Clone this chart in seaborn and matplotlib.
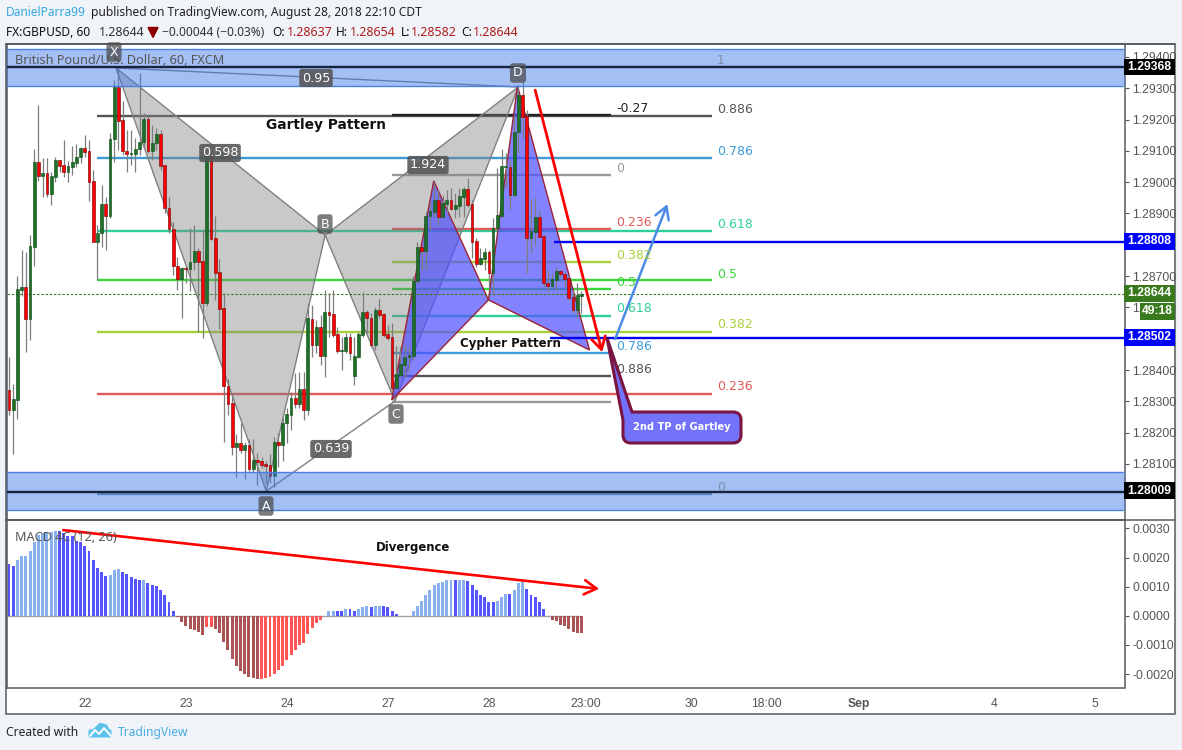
"""GBPUSD 60 minute chart with harmonic patterns and a MACD 4C panel."""

import matplotlib

matplotlib.use("Agg")

import matplotlib.pyplot as plt
import numpy as np
import pandas as pd
import seaborn as sns
from matplotlib.patches import FancyBboxPatch, PathPatch, Polygon, Rectangle
from matplotlib.path import Path

# prices are in 1e-5 units (points), one entry per hourly bar
candle_open = [
    128336, 128272, 128304, 128655, 128665, 128563, 128793, 129064, 129020, 129029,
    128962, 129016, 129071, 129055, 129032, 129048, 129061, 129080, 129109, 129100,
    129004, 128809, 128838, 128930, 128892, 129138, 129304, 129199, 129100, 129090,
    129090, 129106, 129128, 129202, 129100, 129125, 129154, 129055, 128917, 128850,
    128732, 128691, 128726, 128723, 128745, 128780, 128748, 128614, 129087, 128822,
    128713, 128598, 128349, 128294, 128154, 128167, 128144, 128160, 128084, 128112,
    128109, 128099, 128096, 128061, 128170, 128160, 128231, 128256, 128310, 128291,
    128339, 128272, 128563, 128480, 128537, 128445, 128585, 128579, 128515, 128461,
    128461, 128505, 128381, 128441, 128512, 128585, 128566, 128480, 128592, 128579,
    128515, 128505, 128342, 128384, 128416, 128441, 128445, 128684, 128793, 128780,
    128892, 128905, 128943, 128889, 128930, 128943, 128914, 128924, 128953, 128978,
    128930, 128812, 128739, 128755, 128777, 128710, 128854, 128892, 129048, 129048,
    128959, 129160, 129278, 129211, 128822, 128841, 128889, 128828, 128678, 128668,
    128687, 128716, 128707, 128694, 128633, 128592, 128637,
]
candle_close = [
    128272, 128307, 128659, 128665, 128563, 128796, 129064, 129020, 129029, 128962,
    129020, 129071, 129052, 129032, 129052, 129064, 129080, 129109, 129096, 129001,
    128809, 128838, 128930, 128892, 129138, 129304, 129195, 129100, 129090, 129093,
    129106, 129128, 129202, 129100, 129125, 129154, 129052, 128917, 128850, 128732,
    128691, 128726, 128723, 128745, 128780, 128745, 128614, 129087, 128818, 128710,
    128595, 128349, 128291, 128154, 128167, 128144, 128160, 128084, 128112, 128106,
    128096, 128093, 128061, 128170, 128160, 128231, 128259, 128310, 128291, 128339,
    128272, 128566, 128480, 128537, 128445, 128585, 128576, 128512, 128461, 128464,
    128505, 128454, 128445, 128515, 128585, 128566, 128480, 128592, 128576, 128512,
    128502, 128342, 128387, 128419, 128441, 128448, 128684, 128793, 128780, 128892,
    128908, 128943, 128889, 128933, 128943, 128914, 128927, 128956, 128978, 128927,
    128809, 128739, 128758, 128777, 128710, 128854, 128895, 129052, 129052, 128959,
    129160, 129278, 129208, 128822, 128844, 128889, 128825, 128678, 128668, 128691,
    128716, 128707, 128691, 128630, 128592, 128640, 128644,
]
candle_high = [
    128441, 128355, 128700, 128783, 128777, 128831, 129106, 129247, 129077, 129077,
    129032, 129080, 129071, 129135, 129068, 129116, 129122, 129112, 129151, 129135,
    129039, 128863, 128991, 128953, 129157, 129326, 129365, 129259, 129167, 129167,
    129141, 129349, 129221, 129215, 129183, 129173, 129167, 129055, 128953, 128873,
    128761, 128729, 128729, 128854, 128863, 128790, 128847, 129087, 129093, 128892,
    128755, 128646, 128371, 128326, 128195, 128231, 128170, 128179, 128179, 128135,
    128122, 128109, 128131, 128186, 128199, 128250, 128278, 128330, 128390, 128393,
    128393, 128614, 128608, 128560, 128576, 128655, 128646, 128655, 128537, 128505,
    128518, 128518, 128505, 128521, 128649, 128592, 128582, 128601, 128627, 128582,
    128544, 128550, 128477, 128473, 128480, 128473, 128700, 128809, 128799, 128905,
    128937, 129001, 128975, 128959, 128975, 128981, 128965, 128981, 128985, 129013,
    128943, 128822, 128790, 128790, 128783, 128885, 129045, 129106, 129093, 129071,
    129215, 129310, 129320, 129231, 128946, 128949, 128911, 128831, 128719, 128710,
    128729, 128719, 128713, 128703, 128655, 128678, 128654,
]
candle_low = [
    128256, 128131, 128243, 128636, 128457, 128496, 128732, 129004, 128953, 128953,
    128927, 129001, 129032, 129016, 129001, 129023, 129048, 129061, 129080, 128940,
    128809, 128687, 128793, 128783, 128885, 129064, 129103, 129087, 129032, 129055,
    129032, 129087, 129112, 129093, 129071, 129103, 129039, 128901, 128838, 128703,
    128655, 128566, 128678, 128652, 128719, 128521, 128502, 128604, 128815, 128624,
    128531, 128170, 128256, 128128, 128058, 128135, 128052, 128077, 128071, 128032,
    128087, 128039, 128039, 128026, 128090, 128109, 128167, 128208, 128278, 128278,
    128240, 128256, 128441, 128454, 128416, 128377, 128505, 128505, 128454, 128400,
    128454, 128432, 128352, 128438, 128505, 128518, 128473, 128464, 128566, 128505,
    128496, 128336, 128342, 128377, 128377, 128393, 128432, 128678, 128719, 128719,
    128847, 128889, 128863, 128889, 128905, 128911, 128885, 128889, 128889, 128921,
    128758, 128729, 128735, 128719, 128655, 128646, 128847, 128889, 128985, 128911,
    128953, 129093, 129141, 128710, 128774, 128799, 128825, 128665, 128649, 128665,
    128655, 128697, 128665, 128624, 128582, 128569, 128582,
]

# MACD histogram in 1e-5 units, with its four colour states per bar
macd_hist = [
    179, 172, 193, 206, 206, 223, 254, 277, 284, 288,
    288, 292, 290, 284, 275, 275, 258, 252, 241, 223,
    193, 165, 152, 138, 141, 158, 162, 152, 145, 135,
    128, 124, 124, 114, 107, 104, 90, 70, 46, 18,
    -3, -23, -36, -47, -50, -54, -67, -40, -40, -47,
    -60, -91, -119, -149, -173, -190, -201, -211, -213, -218,
    -218, -214, -211, -201, -187, -173, -153, -136, -119, -101,
    -95, -64, -43, -26, -16, 1, 15, 18, 18, 18,
    22, 22, 18, 22, 29, 32, 29, 35, 35, 32,
    29, 15, 5, 1, 0, 0, 15, 35, 52, 73,
    90, 107, 111, 117, 124, 124, 124, 124, 124, 121,
    107, 87, 73, 63, 49, 49, 52, 66, 76, 76,
    90, 111, 117, 93, 73, 63, 46, 22, 1, -13,
    -19, -33, -36, -47, -54, -60, -60,
]
macd_state = list(
    "BBLLLLLLLLLLBBBBBBBBBBBBLLLBBBBBLBBBBBBBDDDDDDDRRDDDDDDDDDDD"
    "RRRRRRRRRRRRRRRLLLBBLBBLLLBLLBBBBBBBLLLLLLLLLLBLLBBBBBBBLLLB"
    "LLLBBBBBBDDDDDDDD"
)

# day ticks
x_tick_bars = [18, 42, 66, 90, 114, 137, 162, 180, 202, 234, 258]
x_tick_labels = ["22", "23", "24", "27", "28", "23:00", "30", "18:00", "Sep", "4", "5"]
price_ticks = [1.281, 1.282, 1.283, 1.284, 1.285, 1.286, 1.287, 1.288, 1.289, 1.290, 1.291, 1.292, 1.293, 1.294]
# these two sit fully behind the blue price tags
hidden_price_ticks = [1.285, 1.288]
macd_ticks = [0.003, 0.002, 0.001, 0.0, -0.001, -0.002]

# harmonic patterns: (bar, price) of X, A, B, C, D
gartley_bars = [25.4, 61.1, 75.1, 91.7, 121.0]
gartley_prices = [1.29365, 1.28013, 1.28831, 1.28301, 1.29304]
cypher_bars = [90.9, 100.9, 113.9, 120.8, 137.9]
cypher_prices = [1.28304, 1.29004, 1.28624, 1.29307, 1.28464]

# fib levels
gartley_levels = [1.29210, 1.29076, 1.28845, 1.28686, 1.28523, 1.28325, 1.28003]
gartley_colors = ["#555555", "#3d9bd6", "#2fcf9c", "#3ad63a", "#a8d23c", "#e05a5a", "#7f8fa8"]
gartley_texts = ["0.886", "0.786", "0.618", "0.5", "0.382", "0.236", "0"]
cypher_levels = [1.29215, 1.29022, 1.28849, 1.28744, 1.28658, 1.28573, 1.28453, 1.28381, 1.28297]
cypher_colors = ["#222222", "#999999", "#e05a5a", "#a8d23c", "#3ad63a", "#2fcf9c", "#3d9bd6", "#555555", "#999999"]
cypher_texts = ["-0.27", "0", "0.236", "0.382", "0.5", "0.618", "0.786", "0.886", ""]

zone_bands = [(1.29306, 1.29424), (1.27953, 1.28074)]
black_lines = [1.29368, 1.28009]
blue_lines = [1.28808, 1.28502]
last_price = 1.28644

W, H = 1182, 750
PAGE = "#f0f3f8"
FRAME = "#55585f"
TICK = "#555555"
SANS = "Noto Sans"
ARIAL = "Liberation Sans"


def px_axes(fig, left, top, right, bottom):
    return fig.add_axes([left / W, 1 - bottom / H, (right - left) / W, (bottom - top) / H])


def style_axes(ax):
    for spine in ax.spines.values():
        spine.set_visible(True)
        spine.set_color(FRAME)
        spine.set_linewidth(1.1)
    ax.set_facecolor("white")
    ax.yaxis.tick_right()
    ax.tick_params(axis="y", length=2.6, width=0.8, color=FRAME, pad=3, labelcolor=TICK, labelsize=8.7)
    ax.set_xlim(-0.6, 265.0)
    ax.set_xticks(x_tick_bars)
    ax.grid(False)
    ax.set_xlabel("")
    ax.set_ylabel("")
    for label in ax.get_yticklabels():
        label.set_family(ARIAL)


def draw_candles(ax, df):
    up = df["close"] >= df["open"]
    ax.vlines(df["bar"], df["low"], df["high"], color="#7d7d7d", linewidth=0.9, zorder=4)
    body_low = df[["open", "close"]].min(axis=1)
    body_size = (df["close"] - df["open"]).abs()
    ax.bar(
        df["bar"], body_size, bottom=body_low, width=0.66,
        color=np.where(up, "#1f6f2b", "#ff0000"),
        edgecolor=np.where(up, "#12501c", "#7a0a0a"),
        linewidth=0.45, zorder=4.2,
    )


def draw_pattern(ax, bars, prices, face, alpha, edge, z):
    for a, b, c in [(0, 1, 2), (2, 3, 4)]:
        pts = [(bars[i], prices[i]) for i in (a, b, c)]
        ax.add_patch(Polygon(pts, closed=True, facecolor=face, alpha=alpha, edgecolor="none", zorder=z))
        ax.add_patch(Polygon(pts, closed=True, fill=False, edgecolor=edge, linewidth=1.0, zorder=z + 0.1))


def draw_price_panel(ax, df):
    ax.set_xlim(-0.6, 265.0)
    ax.set_ylim(1.27921, 1.29443)
    ax.hlines(gartley_levels, 20.8, 167.1, colors=gartley_colors, linewidth=1.7, zorder=2)
    ax.hlines(cypher_levels, 90.9, 143.0, colors=cypher_colors, linewidth=1.7, zorder=2)
    draw_pattern(ax, gartley_bars, gartley_prices, "#808080", 0.42, "#808080", 3)
    for i, j in [(0, 4), (1, 3)]:
        ax.plot([gartley_bars[i], gartley_bars[j]], [gartley_prices[i], gartley_prices[j]],
                color="#808080", linewidth=1.0, zorder=3.1)
    draw_pattern(ax, cypher_bars, cypher_prices, "#4f4fff", 0.7, "#9b2335", 3.2)
    ax.axhline(last_price, color="#3a7a1e", linewidth=0.8, linestyle=(0, (2.2, 1.6)), zorder=3.9)
    draw_candles(ax, df)
    for low, high in zone_bands:
        ax.axhspan(low, high, facecolor="#3f7be6", alpha=0.48, edgecolor="none", zorder=5)
        ax.hlines([low, high], -0.6, 264.6, colors="#4a80e0", linewidth=1.0, zorder=5.1)
    ax.hlines(black_lines, -0.6, 265.0, colors="#16233f", linewidth=1.7, zorder=6)
    ax.hlines(blue_lines[0], 129.5, 265.0, colors="#0000ee", linewidth=1.7, zorder=6)
    ax.hlines(blue_lines[1], 128.6, 265.0, colors="#0000ee", linewidth=1.7, zorder=6)
    ax.annotate("", xy=(140.9, 1.28457), xytext=(125.0, 1.29294), zorder=7,
                arrowprops=dict(arrowstyle="->,head_length=0.55,head_width=0.32", color="#ff0000", lw=2.0,
                                mutation_scale=16, shrinkA=0, shrinkB=0))
    ax.annotate("", xy=(156.4, 1.28930), xytext=(144.0, 1.28499), zorder=7,
                arrowprops=dict(arrowstyle="->,head_length=0.55,head_width=0.32", color="#4d8be8", lw=1.8,
                                mutation_scale=16, shrinkA=0, shrinkB=0))
    ax.set_yticks(price_ticks)
    ax.set_yticklabels(["" if v in hidden_price_ticks else f"{v:.5f}" for v in price_ticks])
    style_axes(ax)
    ax.set_ylim(1.27921, 1.29443)
    ax.tick_params(axis="x", length=0, labelbottom=False)


def draw_macd_panel(ax, df):
    ax.hlines(0, -0.6, df["bar"].iloc[-1], color="#a0a0a0", linewidth=1.0, zorder=1)
    sns.barplot(
        data=df, x="bar", y="macd", hue="state", native_scale=True, dodge=False,
        hue_order=["B", "L", "D", "R"],
        palette={"B": "#5555ff", "L": "#88b0ee", "D": "#aa5555", "R": "#ff5555"},
        width=0.7, saturation=1, linewidth=0, legend=False, ax=ax, zorder=2,
    )
    # seaborn narrows native-scale bars when hue subsets are sparse
    for patch in ax.patches:
        centre = patch.get_x() + patch.get_width() / 2
        patch.set_width(0.7)
        patch.set_x(centre - 0.35)
    ax.annotate("", xy=(140.2, 0.000925), xytext=(12.9, 0.002945), zorder=5,
                arrowprops=dict(arrowstyle="->,head_length=0.55,head_width=0.32", color="#ff0000", lw=1.9,
                                mutation_scale=16, shrinkA=0, shrinkB=0))
    ax.set_yticks(macd_ticks)
    ax.set_yticklabels([f"{v:.4f}" for v in macd_ticks])
    style_axes(ax)
    ax.set_ylim(-0.002481, 0.003292)
    ax.set_xticklabels(x_tick_labels, fontfamily=ARIAL, fontsize=8.7, color=TICK)
    ax.tick_params(axis="x", length=2.6, width=0.8, color=FRAME, pad=4.5)
    for label in ax.get_xticklabels():
        if label.get_text() == "Sep":
            label.set_fontweight("bold")


def draw_overlay(ax):
    ax.set_xlim(0, W)
    ax.set_ylim(H, 0)
    ax.axis("off")
    ax.patch.set_alpha(0)

    # header
    ax.text(6, 12.5, "DanielParra99", color="#36a9e1", fontsize=8.6, family=SANS, va="center")
    ax.text(91, 12.5, "published on TradingView.com, August 28, 2018 22:10 CDT", color="#222222",
            fontsize=8.6, family=SANS, va="center")
    ax.text(6, 32, "FX:GBPUSD, 60", color="#111111", fontsize=8.6, family=SANS, weight="bold", va="center")
    ax.text(99, 32, "1.28644", color="#333333", fontsize=8.9, family=SANS, va="center")
    ax.add_patch(Polygon([(148, 27.5), (158, 27.5), (153, 37.5)], closed=True, color="#8b0000"))
    ax.text(162, 32, "\u22120.00044 (\u22120.03%)", color="#333333", fontsize=8.6, family=SANS, va="center")
    for label, lx, value, vx in [("O:", 272, "1.28637", 287), ("H:", 336, "1.28654", 350),
                                 ("L:", 401, "1.28582", 411), ("C:", 461, "1.28644", 473)]:
        ax.text(lx, 32, label, color="#111111", fontsize=8.6, family=SANS, weight="bold", va="center")
        ax.text(vx, 32, value, color="#b01c1c", fontsize=8.9, family=SANS, va="center")

    # panel captions
    ax.text(15, 60.5, "British Pound/U.S. Dollar, 60, FXCM", color="#555555", fontsize=9.1, family=SANS, va="center")
    ax.text(15, 537.5, "MACD 4C (12, 26)", color="#555555", fontsize=9.1, family=SANS, va="center")

    # pattern names
    ax.text(326, 125, "Gartley Pattern", color="#111111", fontsize=9.9, family="DejaVu Sans", weight="bold",
            ha="center", va="center")
    ax.text(510, 343.5, "Cypher Pattern", color="#111111", fontsize=8.5, family="DejaVu Sans", weight="bold",
            ha="center", va="center")
    ax.text(413, 547.5, "Divergence", color="#111111", fontsize=8.4, family="DejaVu Sans", weight="bold",
            ha="center", va="center")

    # point and ratio badges
    for x, y, s in [(114, 52, "X"), (266, 506, "A"), (325, 224, "B"), (396, 414, "C"), (518, 73, "D")]:
        ax.text(x, y, s, color="white", fontsize=9, family="DejaVu Sans", ha="center", va="center", zorder=5,
                bbox=dict(boxstyle="round,pad=0.26", fc="#4a4a4a", ec="none", alpha=0.72))
    for x, y, s in [(316, 78, "0.95"), (220, 153, "0.598"), (428, 165, "1.924"), (331, 449, "0.639")]:
        ax.text(x, y, s, color="white", fontsize=9.2, family="DejaVu Sans", ha="center", va="center", zorder=5,
                bbox=dict(boxstyle="round,pad=0.2", fc="#555555", ec="none", alpha=0.88))

    # level captions
    ax.text(717, 61, "1", color="#7f8fa8", fontsize=9.0, family="DejaVu Sans", va="center")
    ys = [109.5, 151.5, 224, 274, 325, 387, 487.5]
    for y, s, c in zip(ys, gartley_texts, gartley_colors):
        ax.text(717, y, s, color=c, fontsize=9.0, family="DejaVu Sans", va="center")
    ys = [108, 169, 222, 255.5, 283, 308.5, 346.5, 369.5]
    for y, s, c in zip(ys, cypher_texts, cypher_colors):
        ax.text(616, y, s, color=c, fontsize=9.0, family="DejaVu Sans", va="center")

    # callout
    verts = [(607, 338), (632, 412), (733, 412), (741, 412), (741, 420), (741, 435), (741, 443), (733, 443),
             (631, 443), (623, 443), (623, 435), (623, 420), (607, 338)]
    codes = [Path.MOVETO, Path.LINETO, Path.LINETO, Path.CURVE3, Path.CURVE3, Path.LINETO, Path.CURVE3, Path.CURVE3,
             Path.LINETO, Path.CURVE3, Path.CURVE3, Path.LINETO, Path.CLOSEPOLY]
    ax.add_patch(PathPatch(Path(verts, codes), facecolor="#7272fa", edgecolor="#7a1440", linewidth=2.2, zorder=6))
    ax.text(682, 427.5, "2nd TP of Gartley", color="white", fontsize=7.1, family="DejaVu Sans", weight="bold",
            ha="center", va="center", zorder=7)

    # price tags
    for y, s, c in [(67, "1.29368", "#000000"), (241.5, "1.28808", "#0000ff"), (293.5, "1.28644", "#3a7a1e"),
                    (337.5, "1.28502", "#0000ff"), (490.5, "1.28009", "#000000")]:
        ax.add_patch(Rectangle((1124, y - 8.3), 51, 16.6, facecolor=c, edgecolor="none", zorder=8))
        ax.text(1149.5, y, s, color="white", fontsize=8.7, family=ARIAL, weight="bold", ha="center", va="center",
                zorder=9)
    ax.add_patch(Rectangle((1140, 303), 35, 17, facecolor="#3a7a1e", edgecolor="none", zorder=8))
    ax.text(1157.5, 311.5, "49:18", color="white", fontsize=8.7, family=ARIAL, weight="bold", ha="center",
            va="center", zorder=9)

    # footer
    ax.text(6, 732.5, "Created with", color="#222222", fontsize=8.7, family=SANS, va="center")
    ax.add_patch(FancyBboxPatch((90, 731), 20, 5, boxstyle="round,pad=1.5", facecolor="#5cc1ec", edgecolor="none"))
    ax.add_patch(Polygon([(92, 731), (100, 723.5), (106, 725), (110, 731)], closed=True, color="#5cc1ec"))
    ax.plot([90, 95, 99, 104, 111], [736, 730, 734, 728, 736], color="white", linewidth=1.4, zorder=3)
    ax.text(118, 732.5, "TradingView", color="#45ade0", fontsize=8.7, family=SANS, va="center")


def main():
    sns.set_theme(style="white")
    plt.rcParams["font.family"] = [SANS, "DejaVu Sans"]
    plt.rcParams["axes.unicode_minus"] = False

    df = pd.DataFrame(
        {
            "bar": np.arange(len(candle_open)),
            "open": np.array(candle_open) / 1e5,
            "high": np.array(candle_high) / 1e5,
            "low": np.array(candle_low) / 1e5,
            "close": np.array(candle_close) / 1e5,
            "macd": np.array(macd_hist) / 1e5,
            "state": macd_state,
        }
    )

    fig = plt.figure(figsize=(W / 100, H / 100), dpi=100, facecolor=PAGE)
    fig.add_artist(Rectangle((6 / W, 1 - 713.5 / H), (1175 - 6) / W, (713.5 - 43.5) / H, transform=fig.transFigure,
                             facecolor="white", edgecolor=FRAME, linewidth=1.1, zorder=-1))

    price_ax = px_axes(fig, 6.5, 43.5, 1124.5, 520)
    macd_ax = px_axes(fig, 6.5, 520, 1124.5, 688)
    draw_price_panel(price_ax, df)
    draw_macd_panel(macd_ax, df)

    # the separator runs across the price scale too
    fig.add_artist(plt.Line2D([6 / W, 1175 / W], [1 - 520 / H, 1 - 520 / H], color=FRAME, linewidth=1.1))
    fig.add_artist(plt.Line2D([6 / W, 1175 / W], [1 - 43.5 / H, 1 - 43.5 / H], color=FRAME, linewidth=1.1))

    overlay = fig.add_axes([0, 0, 1, 1], zorder=10)
    draw_overlay(overlay)

    fig.savefig("out.png", dpi=100, facecolor=PAGE)
    plt.close(fig)


if __name__ == "__main__":
    main()
